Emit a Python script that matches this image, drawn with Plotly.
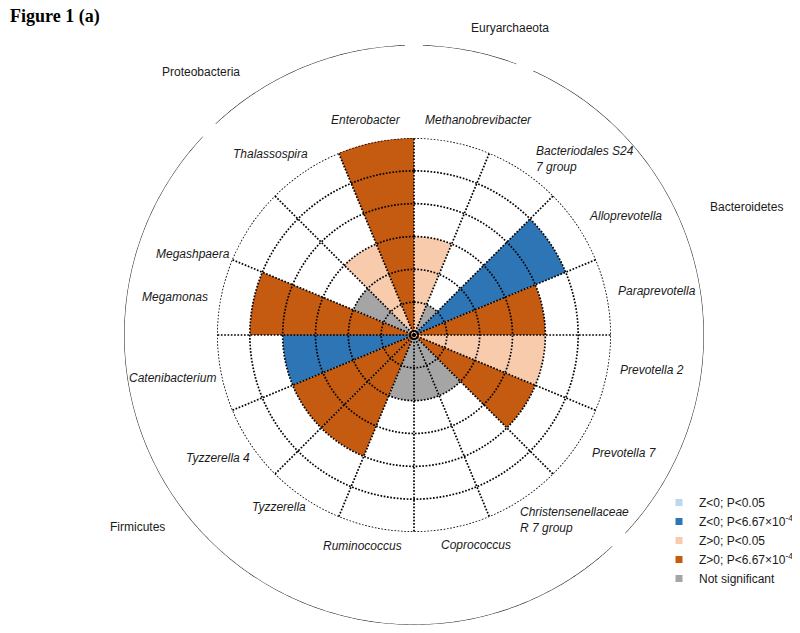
import plotly.graph_objects as go

# ---------------- data ----------------
genera = ["Methanobrevibacter", "Bacteriodales S24<br>7 group", "Alloprevotella",
          "Paraprevotella", "Prevotella 2", "Prevotella 7",
          "Christensenellaceae<br>R 7 group", "Coprococcus", "Ruminococcus",
          "Tyzzerella", "Tyzzerella 4", "Catenibacterium", "Megamonas",
          "Megashpaera", "Thalassospira", "Enterobacter"]
levels = [3, 1, 5, 4, 4, 4, 2, 2, 2, 4, 4, 4, 5, 2, 3, 6]
classes = ["Z>0; P<0.05", "Not significant", "Z<0; P<6.67e-4", "Z>0; P<6.67e-4",
           "Z>0; P<0.05", "Z>0; P<6.67e-4", "Not significant", "Not significant",
           "Not significant", "Z>0; P<6.67e-4", "Z>0; P<6.67e-4", "Z<0; P<6.67e-4",
           "Z>0; P<6.67e-4", "Not significant", "Z>0; P<0.05", "Z>0; P<6.67e-4"]

class_keys = ["Z<0; P<0.05", "Z<0; P<6.67e-4", "Z>0; P<0.05", "Z>0; P<6.67e-4", "Not significant"]
class_labels = ["Z<0; P<0.05", "Z<0; P<6.67×10<sup>-4</sup>", "Z>0; P<0.05",
                "Z>0; P<6.67×10<sup>-4</sup>", "Not significant"]
class_colors = ["#bdd7ee", "#2e75b6", "#f8cbad", "#c55a11", "#a5a5a5"]

phyla = ["Euryarchaeota", "Bacteroidetes", "Firmicutes", "Proteobacteria"]
phylum_sizes = [1, 5, 8, 2]
n_rings = 6
# --------------------------------------

# layout helpers (page pixels; the page body has an 8px margin)
OFF = 8
W, H = 800 - OFF, 633 - OFF
cx, cy, R1, R2 = 414 - OFF, 335 - OFF, 197, 290


def px(x, y):
    return (x - OFF) / W, 1 - (y - OFF) / H


def dom(r):
    return dict(x=[(cx - r) / W, (cx + r) / W],
                y=[(H - cy - r) / H, (H - cy + r) / H])


# genus label placement (page pixel position, anchor)
genus_label_pos = [(478, 120, "center"), (534, 159, "left"), (587, 216, "left"),
                   (616, 291, "left"), (618, 370, "left"), (590, 453, "left"),
                   (518, 520, "left"), (476, 545, "center"), (362, 546, "center"),
                   (308, 507, "right"), (252, 458, "right"), (218, 378, "right"),
                   (210, 297, "right"), (232, 254, "right"), (310, 154, "right"),
                   (366, 120, "center")]
phylum_label_pos = {"Euryarchaeota": (510, 28), "Bacteroidetes": (746, 207),
                    "Firmicutes": (137, 527), "Proteobacteria": (201, 72)}

n = len(genera)
step = 360.0 / n
centers = [i * step + step / 2 for i in range(n)]
FONT = "Arial, Liberation Sans, sans-serif"
TXT = "#1a1a1a"

fig = go.Figure()

# bars, one trace per class
for key, col in zip(class_keys, class_colors):
    th = [c for c, k in zip(centers, classes) if k == key]
    rr = [v for v, k in zip(levels, classes) if k == key]
    fig.add_trace(go.Barpolar(r=rr, theta=th, width=step, marker_color=col,
                              marker_line_width=0, showlegend=False,
                              subplot="polar", hoverinfo="skip"))

# dotted grid over the bars
gth, gr = [], []
for i in range(n):
    gth += [i * step, i * step, None]
    gr += [0, n_rings, None]
for k in range(1, n_rings + 1):
    angs = [a * 0.5 for a in range(721)]
    gth += angs + [None]
    gr += [k] * len(angs) + [None]
fig.add_trace(go.Scatterpolar(r=gr, theta=gth, mode="lines",
                              line=dict(color="black", width=1.7, dash="1.7px,1.6px"),
                              showlegend=False, subplot="polar", hoverinfo="skip"))
# center bullseye
fig.add_trace(go.Scatterpolar(r=[0], theta=[0], mode="markers",
                              marker=dict(symbol="circle-open-dot", size=8, color="black",
                                          line=dict(width=1.2)),
                              showlegend=False, subplot="polar", hoverinfo="skip"))

# outer phylum arcs
gap = 1.8
start = 0
ath, ar = [], []
for size in phylum_sizes:
    a0 = start * step + gap
    a1 = (start + size) * step - gap
    m = int((a1 - a0) * 2) + 1
    ath += [a0 + (a1 - a0) * j / (m - 1) for j in range(m)] + [None]
    ar += [1] * m + [None]
    start += size
fig.add_trace(go.Scatterpolar(r=ar, theta=ath, mode="lines",
                              line=dict(color="#222222", width=1.1),
                              showlegend=False, subplot="polar2", hoverinfo="skip"))

# legend entries
for lab, col in zip(class_labels, class_colors):
    fig.add_trace(go.Scatterpolar(r=[None], theta=[None], mode="markers", name=lab,
                                  marker=dict(symbol="square", size=7, color=col),
                                  subplot="polar", showlegend=True))

fig.update_layout(
    width=W, height=H, margin=dict(l=0, r=0, t=0, b=0),
    paper_bgcolor="white", plot_bgcolor="white",
    font=dict(family=FONT, size=12, color=TXT),
    polar=dict(
        domain=dom(R1), bgcolor="rgba(0,0,0,0)",
        radialaxis=dict(range=[0, n_rings], visible=False),
        angularaxis=dict(rotation=90, direction="clockwise", showgrid=False,
                         showline=False, showticklabels=False, ticks=""),
    ),
    polar2=dict(
        domain=dom(R2), bgcolor="rgba(0,0,0,0)",
        radialaxis=dict(range=[0, 1], visible=False),
        angularaxis=dict(rotation=90, direction="clockwise", showgrid=False,
                         showline=False, showticklabels=False, ticks=""),
    ),
    legend=dict(x=(651) / W, y=1 - (488 - OFF) / H, xanchor="left", yanchor="top",
                bgcolor="rgba(0,0,0,0)", font=dict(family=FONT, size=12, color=TXT)),
    showlegend=True,
)

# genus labels
for g, (x, y, anc) in zip(genera, genus_label_pos):
    xx, yy = px(x, y)
    fig.add_annotation(x=xx, y=yy, xref="paper", yref="paper", text="<i>%s</i>" % g,
                       xanchor=anc, yanchor="middle", align=anc if anc != "center" else "center",
                       showarrow=False, font=dict(family=FONT, size=12, color=TXT))

# phylum labels
for p in phyla:
    xx, yy = px(*phylum_label_pos[p])
    fig.add_annotation(x=xx, y=yy, xref="paper", yref="paper", text=p,
                       xanchor="center", yanchor="middle",
                       showarrow=False, font=dict(family=FONT, size=12, color=TXT))

# title
tx, ty = px(8, 17)
fig.add_annotation(x=tx, y=ty, xref="paper", yref="paper", xanchor="left", yanchor="middle",
                   text="<b>Figure 1 (a)</b>", showarrow=False,
                   font=dict(family="Times New Roman, Liberation Serif, serif", size=18,
                             color="black"))

fig.write_html("out.html")
